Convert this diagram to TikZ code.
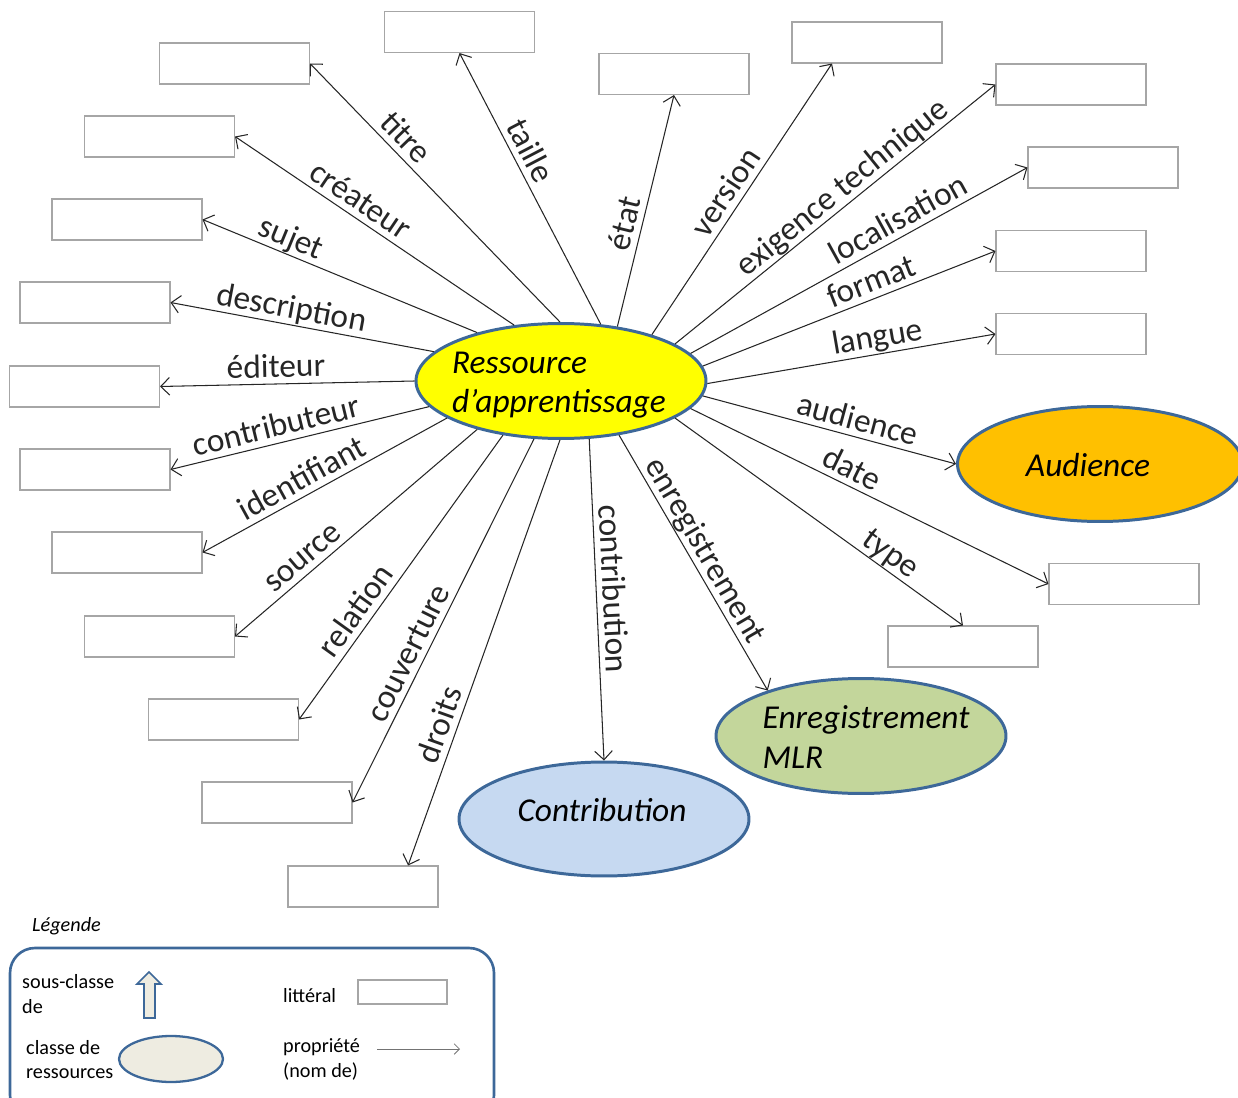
\documentclass[tikz,border=0pt]{standalone}
\usepackage{fontspec}
\setmainfont{Carlito}
\usetikzlibrary{arrows.meta,shapes.geometric}
\definecolor{bordbleu}{HTML}{3D6899}
\definecolor{jaune}{HTML}{FFFF00}
\definecolor{audorange}{HTML}{FFC000}
\definecolor{vertmlr}{HTML}{C3D69B}
\definecolor{bleucontrib}{HTML}{C6D9F1}
\definecolor{beige}{HTML}{EEECE1}
\definecolor{grisbord}{HTML}{A6A6A6}

\begin{document}
\begin{tikzpicture}[x=0.02cm,y=-0.02cm,>={Straight Barb[length=5pt,width=10pt]},
  lit/.style={draw=grisbord,line width=0.6pt,minimum width=3cm,minimum height=0.82cm,inner sep=0},
  cls/.style={ellipse,draw=bordbleu,line width=1.7pt,minimum width=5.8cm,minimum height=2.3cm,inner sep=0},
  clstxt/.style={align=left,font=\fontsize{19}{22.5}\selectfont\itshape},
  prop/.style={->,line width=0.6pt,black!85},
  lbl/.style={sloped,above,font=\fontsize{19}{22}\selectfont,inner sep=1pt,text depth=0.25em},
  leg/.style={align=left,anchor=west,font=\fontsize{11.5}{14}\selectfont}]
\useasboundingbox (0,0) rectangle (1238,1098);

% classes
\node[cls,fill=jaune,label={[clstxt,xshift=-0.04cm,yshift=-0.08cm]center:{Ressource\\d’apprentissage}}] (res) at (561,381) {};
\node[cls,fill=audorange,minimum width=5.7cm,label={[clstxt,xshift=-0.24cm,yshift=-0.03cm]center:Audience}] (audience) at (1100,464) {};
\node[cls,fill=vertmlr,label={[clstxt,xshift=0.1cm,yshift=-0.02cm]center:{Enregistrement\\MLR}}] (enreg) at (861,736) {};
\node[cls,fill=bleucontrib,minimum height=2.28cm,label={[clstxt,xshift=-0.04cm,yshift=0.17cm]center:Contribution}] (contrib) at (604,819) {};

% literaux
\node[lit] (titre) at (234.5,63.5) {};
\node[lit] (taille) at (459.5,32) {};
\node[lit] (etat) at (674,74) {};
\node[lit] (version) at (867,42.5) {};
\node[lit] (exigence) at (1071,84.5) {};
\node[lit] (localisation) at (1103,167.5) {};
\node[lit] (format) at (1071,251) {};
\node[lit] (langue) at (1071,334) {};
\node[lit] (createur) at (159.5,136.5) {};
\node[lit] (sujet) at (127,219.5) {};
\node[lit] (description) at (95,302.5) {};
\node[lit] (editeur) at (84.5,386.5) {};
\node[lit] (contributeur) at (95,469.5) {};
\node[lit] (identifiant) at (127,552.5) {};
\node[lit] (source) at (159.5,636.5) {};
\node[lit] (relation) at (223.5,719.5) {};
\node[lit] (couverture) at (277,802.5) {};
\node[lit] (droits) at (363,886.5) {};
\node[lit] (date) at (1124,584) {};
\node[lit] (type) at (963,646.5) {};

% proprietes
\draw[prop] (res.91) -- node[lbl,pos=0.666] {titre} (titre.east);
\draw[prop] (res.130) -- node[lbl,pos=0.585] {créateur} (createur.east);
\draw[prop] (res.150) -- node[lbl,pos=0.70] {sujet} (sujet.east);
\draw[prop] (res.167) -- node[lbl,pos=0.552] {description} (description.east);
\draw[prop] (res.180) -- node[lbl,pos=0.543] {éditeur} (editeur.east);
\draw[prop] (res.-169) -- node[lbl,pos=0.575] {contributeur} (contributeur.east);
\draw[prop] (res.-162) -- node[lbl,pos=0.56] {identifiant} (identifiant.east);
\draw[prop] (res.-150) -- node[lbl,pos=0.677] {source} (source.east);
\draw[prop] (res.-137) -- node[lbl,pos=0.653] {relation} (relation.east);
\draw[prop] (res.-115) -- node[lbl,pos=0.61] {couverture} (couverture.east);
\draw[prop] (res.-91) -- node[lbl,pos=0.683] {droits} (droits.25);
\draw[prop] (res.-64.6) -- node[lbl,pos=0.469] {contribution} (contrib.north);
\draw[prop] (res.-43.5) -- node[lbl,pos=0.484] {enregistrement} (enreg.154);
\draw[prop] (res.-18) -- node[lbl,pos=0.717] {type} (type.north);
\draw[prop] (res.-12) -- node[lbl,pos=0.43] {date} (date.west);
\draw[prop] (res.-6.5) -- node[lbl,pos=0.595] {audience} (audience.west);
\draw[prop] (res.-1.6) -- node[lbl,pos=0.60] {langue} (langue.west);
\draw[prop] (res.6.7) -- node[lbl,pos=0.597] {format} (format.west);
\draw[prop] (res.12.5) -- node[lbl,pos=0.64] {localisation} (localisation.west);
\draw[prop] (res.18) -- node[lbl,pos=0.554] {exigence technique} (exigence.west);
\draw[prop] (res.27) -- node[lbl,pos=0.49] {version} (version.-149);
\draw[prop] (res.44.5) -- node[lbl,pos=0.427] {état} (etat.south);
\draw[prop] (res.55.6) -- node[lbl,pos=0.61] {taille} (taille.south);

% legende
\node[leg,font=\fontsize{11.5}{14}\selectfont\itshape] (legtitre) at (26,926) {Légende};
\draw[bordbleu,line width=1.5pt,rounded corners=0.5cm] (10,948) rectangle (494,1120);
\node[leg] (legsous) at (16,994) {sous-classe\\de};
\draw[bordbleu,fill=beige,line width=1pt] (144,1018) -- (144,984) -- (137,984) -- (149,972)
  -- (161,984) -- (155,984) -- (155,1018) -- cycle;
\node[leg] (legclasse) at (20,1059.5) {classe de\\ressources};
\node[ellipse,draw=bordbleu,fill=beige,line width=1.3pt,minimum width=2.08cm,minimum height=0.92cm,inner sep=0] (legell) at (171,1059) {};
\node[leg] (leglit) at (277,996) {littéral};
\node[lit,minimum width=1.78cm,minimum height=0.48cm] (legbox) at (402.5,992) {};
\node[leg] (legprop) at (277,1059.5) {propriété\\(nom de)};
\coordinate (pa) at (377,1049);
\coordinate (pb) at (460,1049);
\draw[->,black!55,line width=0.5pt,>={Straight Barb[length=3pt,width=6pt]}] (pa) -- (pb);
\end{tikzpicture}
\end{document}
